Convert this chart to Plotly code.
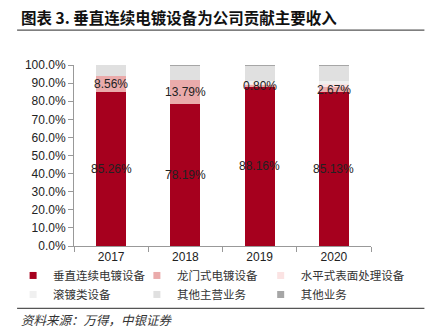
import plotly.graph_objects as go

years = ["2017", "2018", "2019", "2020"]
series_names = ["垂直连续电镀设备", "龙门式电镀设备", "水平式表面处理设备", "滚镀类设备", "其他主营业务", "其他业务"]
vertical = [85.26, 78.19, 88.16, 85.13]
gantry = [8.56, 13.79, 0.80, 2.67]
horizontal = [0.0, 0.0, 0.5, 1.5]
barrel = [0.0, 0.0, 1.7, 2.0]
other_main = [6.18, 7.72, 8.5, 8.4]
other_biz = [0.0, 0.3, 0.34, 0.3]
colors = ["#a6001e", "#eaabab", "#fbe3e3", "#f0f0f0", "#e0e0e0", "#a6a6a6"]
labeled = [True, True, False, False, False, False]
y_ticks = [0, 10, 20, 30, 40, 50, 60, 70, 80, 90, 100]

W, H = 429, 329
L, R, T, B = 74, 371.5, 64.5, 246


def px_x(px):
    return (px - L) / (R - L)


def px_y(py):
    return (B - py) / (B - T)


fig = go.Figure()
all_series = [vertical, gantry, horizontal, barrel, other_main, other_biz]
for name, vals, col in zip(series_names, all_series, colors):
    fig.add_trace(go.Bar(
        x=years, y=vals, name=name, marker=dict(color=col, line=dict(width=0)),
        showlegend=False, hoverinfo="skip",
    ))
# legend: 3 columns x 2 rows, filled row by row
legend_ids = ["legend", "legend2", "legend3"]
for k, (name, col) in enumerate(zip(series_names, colors)):
    fig.add_trace(go.Scatter(
        x=[None], y=[None], mode="markers", name=name,
        marker=dict(symbol="square", size=7, color=col),
        showlegend=True, legend=legend_ids[k % 3],
    ))

# data labels for the labelled series, centred in each segment
base = [0.0] * len(years)
for vals, lab in zip(all_series, labeled):
    for i, v in enumerate(vals):
        if lab:
            fig.add_annotation(
                x=i, y=base[i] + v / 2, xref="x", yref="y",
                text=f"{v:.2f}%", showarrow=False,
                xanchor="center", yanchor="middle",
                font=dict(family="Liberation Sans, Arial", size=12, color="#222"),
            )
        base[i] += v

leg_common = dict(
    orientation="v", traceorder="normal", xref="paper", yref="paper",
    xanchor="left", yanchor="top", itemwidth=30, tracegroupgap=0,
    font=dict(family="Noto Sans CJK SC", size=11.5, color="#333"),
    bgcolor="rgba(0,0,0,0)",
)
col_px = [13, 137, 261]

fig.update_layout(
    width=W, height=H,
    margin=dict(l=L, r=W - R, t=T, b=H - B),
    paper_bgcolor="white", plot_bgcolor="white",
    barmode="stack", bargap=0.595,
    font=dict(family="Liberation Sans, Arial", size=12, color="#222"),
    xaxis=dict(
        type="category", range=[-0.5, 3.5], showgrid=False,
        showline=True, linecolor="#999", linewidth=1,
        ticks="outside", tickson="boundaries", ticklen=5, tickcolor="#999",
        tickfont=dict(size=12, color="#222"),
    ),
    yaxis=dict(
        range=[0, 100], tickvals=y_ticks,
        ticktext=[f"{v:.1f}%" for v in y_ticks],
        showgrid=False, zeroline=False,
        showline=True, linecolor="#999", linewidth=1,
        ticks="outside", ticklen=5, tickcolor="#999",
        tickfont=dict(size=12, color="#222"),
    ),
    legend=dict(leg_common, x=px_x(col_px[0]), y=px_y(261)),
    legend2=dict(leg_common, x=px_x(col_px[1]), y=px_y(261)),
    legend3=dict(leg_common, x=px_x(col_px[2]), y=px_y(261)),
    showlegend=True,
)

fig.add_annotation(
    text="<b>图表 3. 垂直连续电镀设备为公司贡献主要收入</b>",
    xref="paper", yref="paper", x=px_x(19), y=px_y(16),
    xanchor="left", yanchor="middle", showarrow=False,
    font=dict(family="Noto Sans CJK SC", size=15.5, color="#111"),
)
fig.add_annotation(
    text="<i>资料来源：万得，中银证券</i>",
    xref="paper", yref="paper", x=px_x(19), y=px_y(320),
    xanchor="left", yanchor="middle", showarrow=False,
    font=dict(family="Noto Sans CJK SC", size=12.5, color="#333"),
)
for ypx in (29.5, 308.5):
    fig.add_shape(type="line", xref="paper", yref="paper",
                  x0=px_x(17), x1=px_x(425), y0=px_y(ypx), y1=px_y(ypx),
                  line=dict(color="#555", width=1.3))

fig.write_html("out.html")
